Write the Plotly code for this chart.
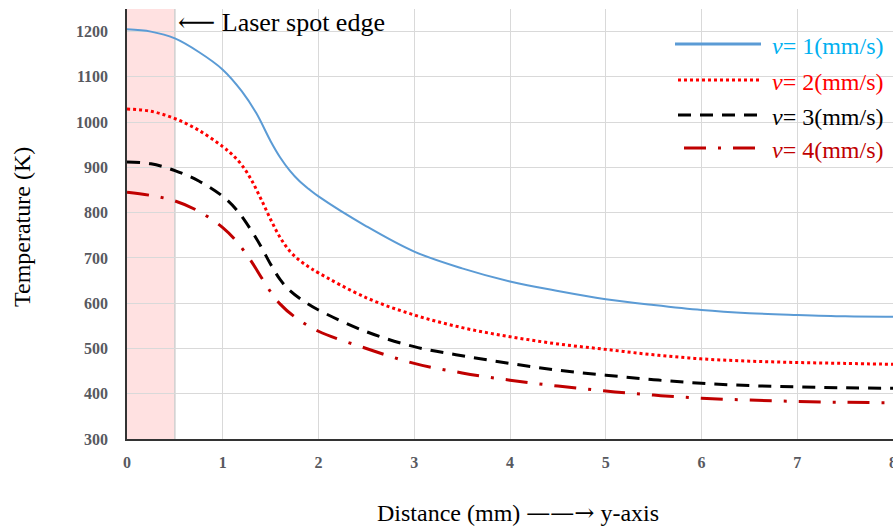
import plotly.graph_objects as go

# ---- data ----
distance_v1 = [0, 0.25, 0.5, 0.75, 1.0, 1.2, 1.35, 1.5, 1.6, 1.7, 1.8, 1.9, 2.0, 2.5, 3.0, 3.5, 4.0, 4.5, 5.0, 5.5, 6.0, 6.5, 7.0, 7.5, 8.0]
temp_v1 = [1205, 1200, 1185, 1155, 1116, 1068, 1020, 958, 922, 893, 870, 852, 836, 770, 714, 677, 648, 627, 609, 596, 585, 578, 574, 571, 570]

distance_v2 = [0, 0.25, 0.5, 0.75, 1.0, 1.1, 1.2, 1.3, 1.4, 1.5, 1.6, 1.7, 1.8, 1.9, 2.0, 2.5, 3.0, 3.5, 4.0, 4.5, 5.0, 5.5, 6.0, 6.5, 7.0, 7.5, 8.0]
temp_v2 = [1029, 1024, 1008, 982, 946, 928, 905, 872, 830, 785, 745, 715, 695, 680, 667, 612, 574, 546, 526, 510, 498, 486, 477, 472, 469, 467, 465]

distance_v3 = [0, 0.25, 0.5, 0.75, 1.0, 1.15, 1.3, 1.4, 1.5, 1.6, 1.7, 1.85, 2.0, 2.5, 3.0, 3.5, 4.0, 4.5, 5.0, 5.5, 6.0, 6.5, 7.0, 7.5, 8.0]
temp_v3 = [912, 908, 893, 870, 836, 805, 760, 725, 686, 652, 628, 604, 585, 537, 504, 484, 467, 452, 441, 431, 423, 418, 415, 413, 412]

distance_v4 = [0, 0.25, 0.5, 0.75, 1.0, 1.15, 1.3, 1.4, 1.5, 1.6, 1.75, 2.0, 2.5, 3.0, 3.5, 4.0, 4.5, 5.0, 5.5, 6.0, 6.5, 7.0, 7.5, 8.0]
temp_v4 = [845, 838, 826, 803, 767, 735, 692, 658, 625, 598, 570, 538, 500, 467, 446, 430, 417, 406, 397, 390, 386, 383, 381, 380]

series_names = ["v= 1(mm/s)", "v= 2(mm/s)", "v= 3(mm/s)", "v= 4(mm/s)"]
legend_labels = ["<i>v</i>= 1(mm/s)", "<i>v</i>= 2(mm/s)", "<i>v</i>= 3(mm/s)", "<i>v</i>= 4(mm/s)"]
x_ticks = [0, 1, 2, 3, 4, 5, 6, 7, 8]
y_ticks = [300, 400, 500, 600, 700, 800, 900, 1000, 1100, 1200]
laser_spot_edge = 0.5

# ---- styles ----
SERIF = "Liberation Serif, Times New Roman, serif"
ARROWFONT = "DejaVu Serif"
line_colors = ["#5b9bd5", "#ff0000", "#000000", "#c00000"]
text_colors = ["#00b0f0", "#ff0000", "#000000", "#c00000"]
dashes = ["solid", "3px,3px", "13px,9px", "22px,12px,3px,12px"]
widths = [2, 3, 3, 3]

W, H = 893, 532
ML, MR, MT, MB = 127, 0, 9, 93
PW, PH = W - ML - MR, H - MT - MB


def px_to_paper(px, py):
    return (px - ML) / PW, (H - MB - py) / PH


fig = go.Figure()
xs = [distance_v1, distance_v2, distance_v3, distance_v4]
ys = [temp_v1, temp_v2, temp_v3, temp_v4]
for i in range(4):
    fig.add_trace(go.Scatter(
        x=xs[i], y=ys[i], mode="lines", name=series_names[i],
        line=dict(color=line_colors[i], width=widths[i], dash=dashes[i], shape="spline", smoothing=1.0),
        showlegend=False,
    ))

# laser spot shaded region
fig.add_shape(type="rect", xref="x", yref="paper", x0=0, x1=laser_spot_edge, y0=0, y1=1,
              fillcolor="rgba(255,205,205,0.6)", line=dict(width=0), layer="below")
fig.add_shape(type="line", xref="x", yref="paper", x0=laser_spot_edge, x1=laser_spot_edge, y0=0, y1=1,
              line=dict(color="#cfcfcf", width=1.5), layer="below")

# laser spot annotation
fig.add_annotation(xref="x", yref="paper", x=laser_spot_edge, y=px_to_paper(0, 22)[1],
                   text=f"<span style='font-family:{ARROWFONT}'>⟵</span> Laser spot edge",
                   showarrow=False, xanchor="left", yanchor="middle",
                   xshift=1, font=dict(family=SERIF, size=26, color="#000000"))

# manual legend
leg_rows_y = [44, 80, 115, 148]
leg_line_x0 = [675, 678, 678, 684]
for i in range(4):
    x0, y0 = px_to_paper(leg_line_x0[i], leg_rows_y[i])
    x1, _ = px_to_paper(761, leg_rows_y[i])
    fig.add_shape(type="line", xref="paper", yref="paper", x0=x0, x1=x1, y0=y0, y1=y0,
                  line=dict(color=line_colors[i], width=widths[i] + 1 if i == 0 else widths[i], dash=dashes[i]))
    tx, ty = px_to_paper(770, leg_rows_y[i] + 2)
    fig.add_annotation(xref="paper", yref="paper", x=tx, y=ty, text=legend_labels[i],
                       showarrow=False, xanchor="left", yanchor="middle",
                       font=dict(family=SERIF, size=24, color=text_colors[i]))

# axis titles as annotations
tx, ty = px_to_paper(22, 227)
fig.add_annotation(xref="paper", yref="paper", x=tx, y=ty, text="Temperature (K)", textangle=-90,
                   showarrow=False, xanchor="center", yanchor="middle",
                   font=dict(family=SERIF, size=24, color="#000000"))
tx, ty = px_to_paper(518, 513)
fig.add_annotation(xref="paper", yref="paper", x=tx, y=ty,
                   text=f"Distance (mm) <span style='font-family:{ARROWFONT}'>——→</span> y-axis",
                   showarrow=False, xanchor="center", yanchor="middle",
                   font=dict(family=SERIF, size=24, color="#000000"))

tick_font = dict(family=SERIF, size=16, color="#58595f", weight="bold")
fig.update_xaxes(range=[0, 8], tickvals=x_ticks, ticktext=[str(t) for t in x_ticks],
                 showgrid=True, gridcolor="#d9d9d9", gridwidth=1, automargin=False,
                 showline=True, linecolor="#333333", linewidth=1.5, ticklabeloverflow="allow",
                 ticks="", ticklabelstandoff=8, tickfont=tick_font, zeroline=False)
fig.update_yaxes(range=[300, 1250], tickvals=y_ticks, ticktext=[str(t) for t in y_ticks],
                 showgrid=True, gridcolor="#d9d9d9", gridwidth=1, automargin=False,
                 showline=True, linecolor="#333333", linewidth=1.5,
                 ticks="", ticklabelstandoff=14, tickfont=tick_font, zeroline=False)

fig.update_layout(width=W, height=H, margin=dict(l=ML, r=MR, t=MT, b=MB),
                  plot_bgcolor="white", paper_bgcolor="white", showlegend=False)

fig.write_html("out.html", config={"displayModeBar": False},
               post_script="document.body.style.margin='0';document.body.style.overflow='hidden';")
